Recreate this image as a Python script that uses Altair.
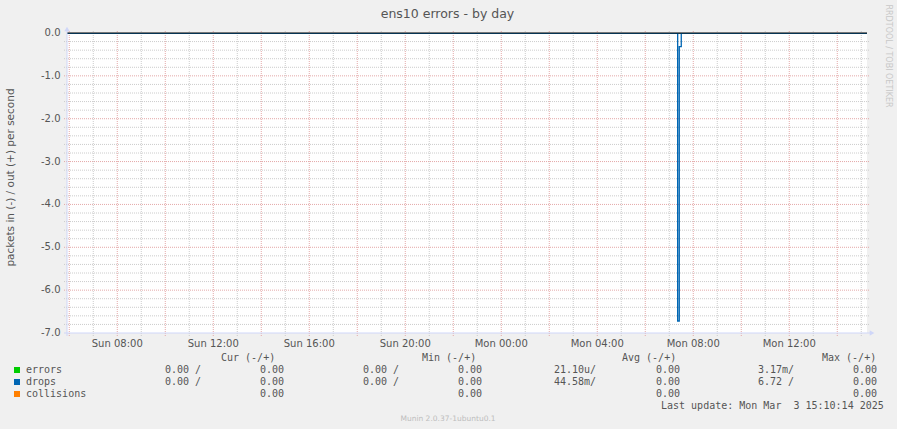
import altair as alt
import pandas as pd

# ---------------- data ----------------
sample_times = ["2025-03-02T05:54:00", "2025-03-03T07:21:00", "2025-03-03T07:25:00",
                "2025-03-03T07:30:00", "2025-03-03T15:14:00"]
errors_in = [0.0, 0.0, 0.0, 0.0, 0.0]
errors_out = [0.0, 0.0, 0.0, 0.0, 0.0]
drops_in = [0.0, 6.72, 0.32, 0.0, 0.0]
drops_out = [0.0, 0.0, 0.0, 0.0, 0.0]
collisions = [0.0, 0.0, 0.0, 0.0, 0.0]

series_names = ["errors", "drops", "collisions"]
series_colors = ["#00cc00", "#0066b3", "#ff8000"]

col_headers = ["Cur (-/+)", "Min (-/+)", "Avg (-/+)", "Max (-/+)"]
cur_in = ["0.00 /", "0.00 /", ""]
cur_out = ["0.00", "0.00", "0.00"]
min_in = ["0.00 /", "0.00 /", ""]
min_out = ["0.00", "0.00", "0.00"]
avg_in = ["21.10u/", "44.58m/", ""]
avg_out = ["0.00", "0.00", "0.00"]
max_in = ["3.17m/", "6.72 /", ""]
max_out = ["0.00", "0.00", "0.00"]

y_tick_values = [0, -1, -2, -3, -4, -5, -6, -7]
y_tick_labels = ["0.0", "-1.0", "-2.0", "-3.0", "-4.0", "-5.0", "-6.0", "-7.0"]
y_minor = [round(-0.2 * k, 1) for k in range(1, 35) if k % 5 != 0]
x_tick_times = ["2025-03-02T08:00:00", "2025-03-02T12:00:00", "2025-03-02T16:00:00",
                "2025-03-02T20:00:00", "2025-03-03T00:00:00", "2025-03-03T04:00:00",
                "2025-03-03T08:00:00", "2025-03-03T12:00:00"]
x_tick_labels = ["Sun 08:00", "Sun 12:00", "Sun 16:00", "Sun 20:00",
                 "Mon 00:00", "Mon 04:00", "Mon 08:00", "Mon 12:00"]
x_major = [f"2025-03-02T{h:02d}:00:00" for h in range(6, 24, 2)] + \
          [f"2025-03-03T{h:02d}:00:00" for h in range(0, 16, 2)]
x_minor = [f"2025-03-02T{h:02d}:00:00" for h in range(7, 24, 2)] + \
          [f"2025-03-03T{h:02d}:00:00" for h in range(1, 16, 2)]

title_text = "ens10 errors - by day"
y_title = "packets in (-) / out (+) per second"
last_update = "Last update: Mon Mar \u00a03 15:10:14 2025"
footer = "Munin 2.0.37-1ubuntu0.1"
watermark = "RRDTOOL / TOBI OETIKER"

# ---------------- layout ----------------
PX0, PY0 = 67, 33
W, H = 800, 300
TXT = "#555555"
SANS = "DejaVu Sans"
MONO = "DejaVu Sans Mono"

xscale = alt.Scale(type="time",
                   domain=[alt.DateTime(year=2025, month=3, date=2, hours=5, minutes=54, seconds=20),
                           alt.DateTime(year=2025, month=3, date=3, hours=15, minutes=14, seconds=20)])
yscale = alt.Scale(domain=[-7, 0], nice=False, zero=False)

layers = []

# grid
def vgrid(times, color):
    df = pd.DataFrame({"t": times})
    return alt.Chart(df).mark_rule(color=color, strokeWidth=1, strokeDash=[1, 1]).encode(
        x=alt.X("t:T", scale=xscale, axis=None),
        y=alt.value(-2), y2=alt.value(H + 4))

def hgrid(vals, color):
    df = pd.DataFrame({"v": vals})
    return alt.Chart(df).mark_rule(color=color, strokeWidth=1, strokeDash=[1, 1]).encode(
        y=alt.Y("v:Q", scale=yscale, axis=None),
        x=alt.value(-3), x2=alt.value(W + 2))

layers += [vgrid(x_minor, "#cccccc"), hgrid(y_minor, "#cccccc"),
           vgrid(x_major, "#e4a8a8"), hgrid([v for v in y_tick_values if v not in (0, -7)], "#e4a8a8")]

# series
def series_df(vals, sign):
    return pd.DataFrame({"t": sample_times, "v": [sign * v for v in vals]})

series_list = [
    (errors_in, -1, series_colors[0]), (errors_out, 1, series_colors[0]),
    (collisions, 1, series_colors[2]),
    (drops_out, 1, series_colors[1]), (drops_in, -1, series_colors[1]),
]
for vals, sign, col in series_list:
    layers.append(alt.Chart(series_df(vals, sign)).mark_line(
        color=col, strokeWidth=1.3, interpolate="step-after", clip=True).encode(
        x=alt.X("t:T", scale=xscale, axis=None),
        y=alt.Y("v:Q", scale=yscale, axis=None)))

# zero line
layers.append(alt.Chart(pd.DataFrame({"v": [0]})).mark_rule(color="#000000", strokeWidth=1).encode(
    y=alt.Y("v:Q", scale=yscale, axis=None), x=alt.value(0), x2=alt.value(W)))

# axis labels (through the scales)
layers.append(alt.Chart(pd.DataFrame({"t": x_tick_times, "lab": x_tick_labels})).mark_text(
    font=SANS, fontSize=10, color=TXT, align="center", baseline="alphabetic").encode(
    x=alt.X("t:T", scale=xscale, axis=None), y=alt.value(H + 13.5), text="lab:N"))
layers.append(alt.Chart(pd.DataFrame({"v": y_tick_values, "lab": y_tick_labels})).mark_text(
    font=SANS, fontSize=10, color=TXT, align="right", baseline="middle").encode(
    y=alt.Y("v:Q", scale=yscale, axis=None), x=alt.value(-6.5), text="lab:N"))

# axes lines and arrows
AX = "#cfd6f8"
one = alt.Data(values=[{"a": 1}])
layers.append(alt.Chart(one).mark_rule(color=AX, strokeWidth=1).encode(
    x=alt.value(0), y=alt.value(-3), y2=alt.value(H + 3)))
layers.append(alt.Chart(one).mark_rule(color=AX, strokeWidth=1).encode(
    x=alt.value(-3), x2=alt.value(W + 3), y=alt.value(H)))
layers.append(alt.Chart(one).mark_point(shape="triangle-up", filled=True, color=AX, size=28, opacity=1).encode(
    x=alt.value(0), y=alt.value(-4)))
layers.append(alt.Chart(one).mark_point(shape="triangle-right", filled=True, color=AX, size=28, opacity=1).encode(
    x=alt.value(W + 5), y=alt.value(H)))

# texts
def txt(text, xi, yi, size, font=MONO, color=TXT, align="left", angle=0, baseline="alphabetic"):
    return alt.Chart(one).mark_text(text=text, font=font, fontSize=size, color=color,
                                     align=align, baseline=baseline, angle=angle).encode(
        x=alt.value(xi - PX0), y=alt.value(yi - PY0))

layers.append(txt(title_text, 447.5, 17.5, 12.5, font=SANS, align="center"))
layers.append(txt(y_title, 11, 177.5, 10.5, font=SANS, align="center", angle=270, baseline="middle"))
layers.append(txt(watermark, 888, 56, 8, font=SANS, color="#c8c8c8", align="center", angle=90,
                  baseline="middle"))
layers.append(txt(footer, 448, 420.5, 7.5, font=SANS, color="#bdbdbd", align="center"))

header_x = [221, 422, 622, 822]
for h, xh in zip(col_headers, header_x):
    layers.append(txt(h, xh, 361, 10))

row_y = [373, 385, 397]
cols = [(cur_in, 165), (cur_out, 260), (min_in, 363), (min_out, 458),
        (avg_in, 554), (avg_out, 656), (max_in, 758), (max_out, 853)]
for i, (name, colr) in enumerate(zip(series_names, series_colors)):
    yb = row_y[i]
    layers.append(alt.Chart(one).mark_rect(color=colr).encode(
        x=alt.value(14 - PX0), x2=alt.value(20 - PX0),
        y=alt.value(yb - 6 - PY0), y2=alt.value(yb - PY0)))
    layers.append(txt(name, 26, yb, 10))
    for arr, xc in cols:
        if arr[i]:
            layers.append(txt(arr[i], xc, yb, 10))

layers.append(txt(last_update, 661, 409, 10))

chart = alt.layer(*layers).properties(
    width=W, height=H,
    autosize=alt.AutoSizeParams(type="none"),
    padding={"left": PX0, "top": PY0, "right": 897 - PX0 - W, "bottom": 429 - PY0 - H},
    background="#f0f0f0",
).configure_view(fill="white", stroke=None)

chart.save("out.html", embed_options={"renderer": "svg", "actions": False})
